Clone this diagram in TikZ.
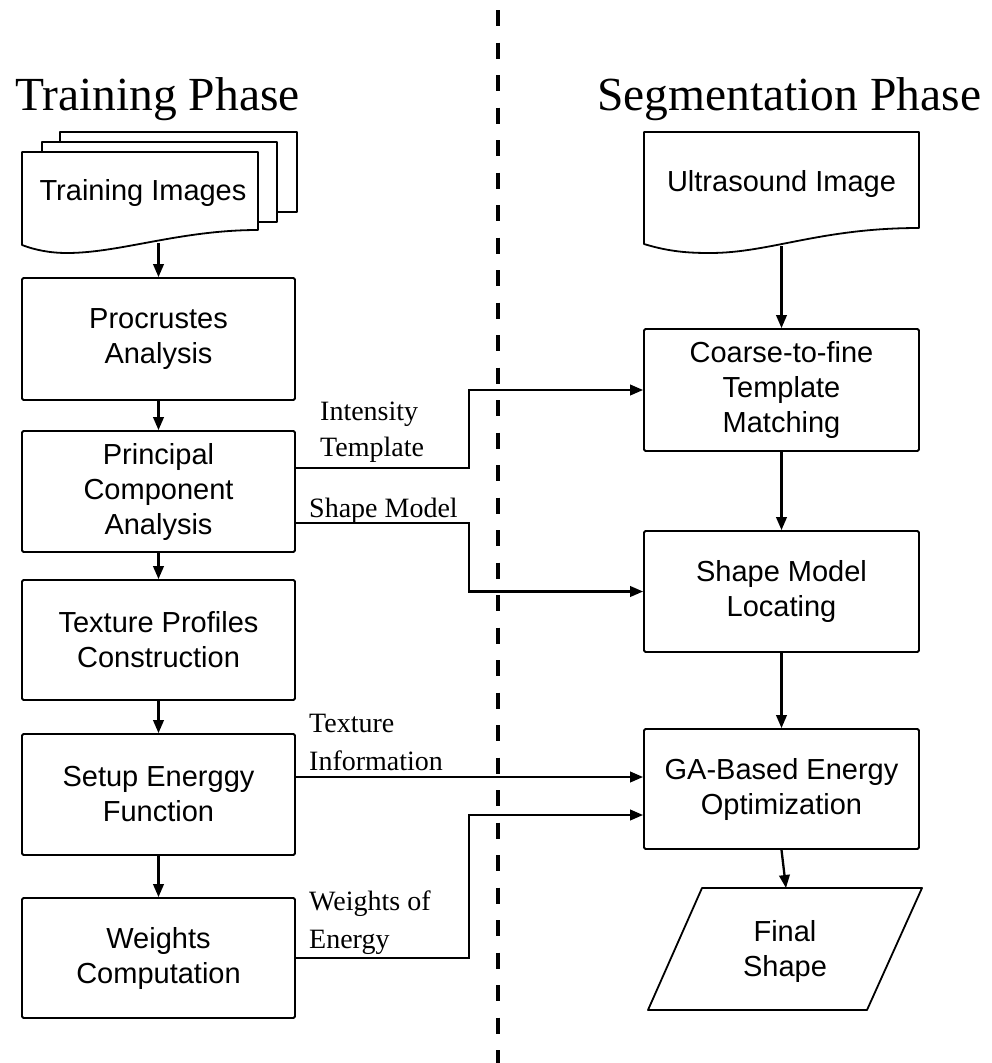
\documentclass[tikz,border=0pt]{standalone}
\usepackage{fontspec}
\setmainfont{Liberation Serif}
\newfontfamily\boxfont{Liberation Sans}
\usetikzlibrary{arrows.meta,calc}

\tikzset{
  procbox/.style={draw, line width=1.8pt, rounded corners=1.5pt, fill=white,
    minimum height=#1, inner sep=0pt, align=center,
    font=\boxfont\fontsize{29}{35}\selectfont},
  leftbox/.style={procbox=#1, minimum width=273pt},
  rightbox/.style={procbox=#1, minimum width=275pt},
  docshape/.style={draw, line width=1.8pt, fill=white, line join=round},
  flow/.style={line width=2.3pt, -{Triangle[length=13pt,width=10.5pt]}},
  linklabel/.style={anchor=base west, inner sep=0pt,
    font=\fontsize{28}{35}\selectfont},
  phasetitle/.style={anchor=base west, inner sep=0pt,
    font=\fontsize{47.5}{55}\selectfont},
  plaintext/.style={inner sep=0pt, align=center,
    font=\boxfont\fontsize{29}{35}\selectfont}
}

\begin{document}
\begin{tikzpicture}[x=1pt, y=-1pt]
\useasboundingbox[fill=white] (0,0) rectangle (992,1063);

% phase divider
\draw[line width=4pt, dash pattern=on 16pt off 16.5pt] (498,10) -- (498,1063);

% phase titles
\node[phasetitle] (ttrain) at (15,110) {Training Phase};
\node[phasetitle] (tseg) at (597,110) {Segmentation Phase};

% ---- training phase ----
% stacked document symbol
\draw[docshape] (60,132) rectangle (297,212);
\draw[docshape] (42,142) rectangle (277,222);
\draw[docshape] (22,245) -- (22,152) -- (258,152) -- (258,230)
  .. controls (180,230) and (120,253) .. (67,253)
  .. controls (50,253) and (35,250) .. cycle;
\node[plaintext] (timg) at (143,193) {Training Images};
\coordinate (timg-out) at (158.5,243);

\node[leftbox=122pt] (proc) at (158.5,339) {Procrustes\\Analysis};
\node[leftbox=121pt] (pca) at (158.5,491.5) {Principal\\Component\\Analysis};
\node[leftbox=120pt] (tex) at (158.5,640) {Texture Profiles\\Construction};
\node[leftbox=121pt] (setup) at (158.5,794.5) {Setup Energgy\\Function};
\node[leftbox=120pt] (wts) at (158.5,958) {Weights\\Computation};

\draw[flow] (timg-out) -- (proc.north);
\draw[flow] (proc.south) -- (pca.north);
\draw[flow] (pca.south) -- (tex.north);
\draw[flow] (tex.south) -- (setup.north);
\draw[flow] (setup.south) -- (wts.north);

% ---- segmentation phase ----
\draw[docshape] (644,244) -- (644,132) -- (919,132) -- (919,228)
  .. controls (820,228) and (770,253) .. (710,253)
  .. controls (690,253) and (670,252) .. cycle;
\node[plaintext] (usimg) at (781.5,184) {Ultrasound Image};
\coordinate (usimg-out) at (781.5,246);

\node[rightbox=122pt] (coarse) at (781.5,390) {Coarse-to-fine\\Template\\Matching};
\node[rightbox=121pt] (smloc) at (781.5,591.5) {Shape Model\\Locating};
\node[rightbox=120pt] (ga) at (781.5,789) {GA-Based Energy\\Optimization};

% output parallelogram
\draw[docshape] (702,888) -- (922,888) -- (867,1010) -- (648,1010) -- cycle;
\node[plaintext] (final) at (785,951) {Final\\Shape};
\coordinate (final-in) at (786,888);

\draw[flow] (usimg-out) -- (coarse.north);
\draw[flow] (coarse.south) -- (smloc.north);
\draw[flow] (smloc.south) -- (ga.north);
\draw[flow] (ga.south) -- (final-in);

% ---- links between phases ----
\coordinate (busx) at (469,0);
\coordinate (gain1) at ([yshift=12pt]ga.west);
\coordinate (gain2) at ([yshift=-26pt]ga.west);

\draw[flow] ([yshift=23.5pt]pca.east) -| (busx |- coarse.west) -- (coarse.west);
\draw[flow] ([yshift=-31.5pt]pca.east) -| (busx |- smloc.west) -- (smloc.west);
\draw[flow] (setup.east |- gain1) -- (gain1);
\draw[flow] (wts.east) -| (busx |- gain2) -- (gain2);

\node[linklabel] (lit1) at (320,420) {Intensity};
\node[linklabel] (lit2) at (320,456) {Template};
\node[linklabel] (lsm) at (309,517) {Shape Model};
\node[linklabel] (lti1) at (309,732) {Texture};
\node[linklabel] (lti2) at (309,770) {Information};
\node[linklabel] (lwe1) at (309,910) {Weights of};
\node[linklabel] (lwe2) at (309,948) {Energy};
\end{tikzpicture}
\end{document}
